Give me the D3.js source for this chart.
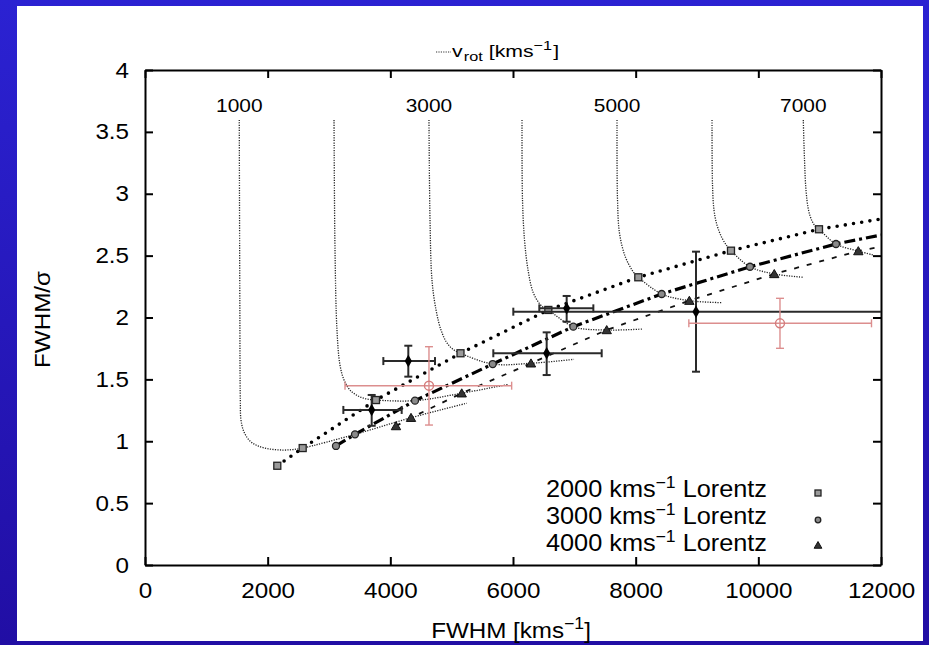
<!DOCTYPE html>
<html>
<head>
<meta charset="utf-8">
<script src="https://cdn.jsdelivr.net/npm/d3@7"></script>
<style>
  html, body { margin: 0; padding: 0; background: #2416b8; }
  svg { display: block; }
  text { font-family: "Liberation Sans", Arial, Helvetica, sans-serif; fill: #000; }
</style>
</head>
<body>
<svg id="chart" width="929" height="645"></svg>
<script>
// ---- axis ticks ----
const xTicks = [0, 2000, 4000, 6000, 8000, 10000, 12000];
const yTicks = [0, 0.5, 1, 1.5, 2, 2.5, 3, 3.5, 4];

// ---- model grid: v_rot values (one curve each) ----
const vrotValues = [1000, 2000, 3000, 4000, 5000, 6000, 7000];
const vrotLabelled = [1000, 3000, 5000, 7000];

// Lorentz-width sequences, one point per v_rot (0 ... 7000 km/s), [FWHM, FWHM/sigma]
const lorentz2000 = [[2157, 0.802], [2571, 0.945], [3766, 1.333], [5144, 1.711], [6576, 2.061], [8043, 2.325], [9554, 2.540], [10989, 2.713]];
const lorentz3000 = [[3114, 0.962], [3424, 1.056], [4402, 1.328], [5669, 1.624], [6983, 1.926], [8424, 2.190], [9864, 2.410], [11266, 2.594]];
const lorentz4000 = [[4092, 1.123], [4337, 1.190], [5164, 1.388], [6293, 1.630], [7528, 1.899], [8875, 2.136], [10260, 2.352], [11630, 2.537]];
// where each sequence leaves the frame on the right
const lorentzTail = [[12000, 2.796], [12000, 2.667], [12000, 2.572]];

// v_rot curves: upper branch (small Lorentz width) down to the 2000 km/s point
const vrot1000 = [[1537, 3.596], [1546, 2.141], [1554, 1.333], [1565, 1.172], [1614, 1.075], [1712, 1.002], [1842, 0.962], [2038, 0.937], [2250, 0.929], [2413, 0.933]];
const vrot2000 = [[3082, 3.596], [3098, 2.545], [3130, 1.899], [3179, 1.616], [3245, 1.495], [3342, 1.414], [3473, 1.366], [3620, 1.341]];
const vrot3000 = [[4630, 3.596], [4647, 2.788], [4679, 2.303], [4745, 2.061], [4826, 1.899], [4924, 1.794], [5038, 1.737]];
const vrot4000 = [[6147, 3.596], [6155, 2.949], [6188, 2.626], [6245, 2.384], [6326, 2.206], [6424, 2.117], [6505, 2.077]];
const vrot5000 = [[7696, 3.596], [7704, 2.949], [7736, 2.683], [7826, 2.497], [7940, 2.384], [8005, 2.343]];
const vrot6000 = [[9245, 3.596], [9253, 3.071], [9277, 2.869], [9326, 2.747], [9408, 2.642], [9489, 2.578]];
const vrot7000 = [[10733, 3.596], [10753, 3.273], [10777, 3.030], [10818, 2.869], [10875, 2.780], [10940, 2.731]];
const vrotUpper = [vrot1000, vrot2000, vrot3000, vrot4000, vrot5000, vrot6000, vrot7000];
// last point of each curve, beyond the 4000 km/s Lorentz point
const vrotEnd = [[5245, 1.307], [5918, 1.459], [6995, 1.662], [8125, 1.907], [9403, 2.120], [10733, 2.325], [11875, 2.505]];

// ---- measurements: [FWHM, FWHM/sigma, FWHM low, FWHM high, ratio low, ratio high] ----
const measBlack = [
  [4293, 1.648, 3886, 4728, 1.522, 1.772],
  [3696, 1.253, 3234, 4185, 1.125, 1.374],
  [6875, 2.074, 6429, 7310, 1.966, 2.174],
  [6549, 1.711, 5679, 7446, 1.535, 1.880],
  [8984, 2.047, 6005, 12600, 1.562, 2.532]
];
const measRed = [
  [4630, 1.449, 3261, 5978, 1.131, 1.764],
  [10353, 1.953, 8867, 11845, 1.751, 2.155]
];

const legendLabels = ["2000", "3000", "4000"];

// ---- layout ----
const svg = d3.select("#chart");
const W = 929, H = 645;
const plot = { left: 145, right: 881, top: 70, bottom: 565 };
const x = d3.scaleLinear().domain([0, 12000]).range([plot.left, plot.right]);
const y = d3.scaleLinear().domain([0, 4]).range([plot.bottom, plot.top]);

const FS = 22;        // main text size
const STRETCH = 1.1;  // horizontal widening of the lettering

// background: blue frame with white page
const defs = svg.append("defs");
const grad = defs.append("linearGradient").attr("id", "bg").attr("x1", 0).attr("y1", 0).attr("x2", 0).attr("y2", 1);
grad.append("stop").attr("offset", 0).attr("stop-color", "#2b22d2");
grad.append("stop").attr("offset", 1).attr("stop-color", "#210ea4");
svg.append("rect").attr("width", W).attr("height", H).attr("fill", "url(#bg)");
svg.append("rect").attr("x", 17).attr("y", 6).attr("width", 906).attr("height", 635).attr("fill", "#fff");

defs.append("clipPath").attr("id", "plotclip").append("rect")
  .attr("x", plot.left).attr("y", plot.top)
  .attr("width", plot.right - plot.left).attr("height", plot.bottom - plot.top);

// text placed at (tx, ty) and widened about its anchor
function label(parent, tx, ty, anchor, size) {
  return parent.append("text")
    .attr("transform", `translate(${tx},${ty}) scale(${STRETCH},1)`)
    .attr("text-anchor", anchor).attr("font-size", size);
}

// ---- axes ----
function styleAxis(g) {
  g.selectAll("path.domain").attr("stroke", "#000").attr("stroke-width", 2);
  g.selectAll(".tick line").attr("stroke", "#000").attr("stroke-width", 2);
  g.selectAll(".tick text").attr("font-size", FS).attr("fill", "#000")
    .attr("font-family", '"Liberation Sans", Arial, sans-serif');
}
svg.append("g").attr("transform", `translate(0,${plot.bottom})`)
  .call(d3.axisBottom(x).tickValues(xTicks).tickSizeInner(-8).tickSizeOuter(0).tickPadding(17).tickFormat(d3.format("d")))
  .call(styleAxis)
  .call(g => g.selectAll(".tick text").attr("transform", `scale(${STRETCH},1)`));
svg.append("g").attr("transform", `translate(0,${plot.top})`)
  .call(d3.axisTop(x).tickValues(xTicks).tickSizeInner(-8).tickSizeOuter(0).tickFormat(""))
  .call(styleAxis);
svg.append("g").attr("transform", `translate(${plot.left},0)`)
  .call(d3.axisLeft(y).tickValues(yTicks).tickSizeInner(-8).tickSizeOuter(0).tickPadding(14.5).tickFormat(d => String(d)))
  .call(styleAxis)
  .call(g => g.selectAll(".tick text").attr("transform", `scale(${STRETCH},1)`));
svg.append("g").attr("transform", `translate(${plot.right},0)`)
  .call(d3.axisRight(y).tickValues(yTicks).tickSizeInner(-8).tickSizeOuter(0).tickFormat(""))
  .call(styleAxis);

// axis titles
svg.append("text").attr("transform", `translate(50,${(plot.top + plot.bottom) / 2 + 2}) rotate(-90) scale(${STRETCH},1)`)
  .attr("text-anchor", "middle").attr("font-size", FS).text("FWHM/σ");
const xt = label(svg, 511, 638, "middle", FS);
xt.append("tspan").text("FWHM [kms");
xt.append("tspan").attr("font-size", 16).attr("dy", -9).text("−1");
xt.append("tspan").attr("dy", 9).text("]");

// top key for the v_rot curves
const keyG = svg.append("g");
keyG.append("line").attr("x1", 436).attr("x2", 451).attr("y1", 52).attr("y2", 52)
  .attr("stroke", "#333").attr("stroke-width", 1.2).attr("stroke-dasharray", "1.2 1.2");
const kt = keyG.append("text").attr("transform", "translate(452,57) scale(1.25,1)").attr("font-size", 17);
kt.append("tspan").text("v");
kt.append("tspan").attr("font-size", 13).attr("dy", 4).attr("dx", 1).text("rot");
kt.append("tspan").attr("dy", -4).text(" [kms");
kt.append("tspan").attr("font-size", 13).attr("dy", -7).text("−1");
kt.append("tspan").attr("dy", 7).attr("dx", 1).text("]");

// ---- curves ----
const g = svg.append("g").attr("clip-path", "url(#plotclip)");
const line = d3.line().x(d => x(d[0])).y(d => y(d[1]));
const smooth = d3.line().x(d => x(d[0])).y(d => y(d[1])).curve(d3.curveCatmullRom.alpha(0.5));

// v_rot curves
vrotValues.forEach((v, i) => {
  const k = i + 1;
  const pts = vrotUpper[i].concat([lorentz2000[k], lorentz3000[k], lorentz4000[k], vrotEnd[i]]);
  g.append("path").attr("d", smooth(pts)).attr("fill", "none")
    .attr("stroke", "#222").attr("stroke-width", 1.3).attr("stroke-dasharray", "1.2 1.3");
});

// Lorentz sequences
g.append("path").attr("d", line(lorentz2000.concat([lorentzTail[0]]))).attr("fill", "none")
  .attr("stroke", "#000").attr("stroke-width", 3.6).attr("stroke-linecap", "round")
  .attr("stroke-dasharray", "0 8.3");
g.append("path").attr("d", line(lorentz3000.concat([lorentzTail[1]]))).attr("fill", "none")
  .attr("stroke", "#000").attr("stroke-width", 3.2)
  .attr("stroke-dasharray", "11 4 3 4");
g.append("path").attr("d", line(lorentz4000.concat([lorentzTail[2]]))).attr("fill", "none")
  .attr("stroke", "#111").attr("stroke-width", 1.8)
  .attr("stroke-dasharray", "5 8");

// markers
function square(sel, cx, cy, s) {
  sel.append("rect").attr("x", cx - s / 2).attr("y", cy - s / 2).attr("width", s).attr("height", s)
    .attr("fill", "#9a9a9a").attr("stroke", "#222").attr("stroke-width", 1.3);
}
function circle(sel, cx, cy, r) {
  sel.append("circle").attr("cx", cx).attr("cy", cy).attr("r", r)
    .attr("fill", "#8a8a8a").attr("stroke", "#222").attr("stroke-width", 1.3);
}
const triSym = d3.symbol().type(d3.symbolTriangle);
function triangle(sel, cx, cy, size) {
  sel.append("path").attr("d", triSym.size(size)()).attr("transform", `translate(${cx},${cy + 1})`)
    .attr("fill", "#333").attr("stroke", "#111").attr("stroke-width", 1);
}
lorentz2000.forEach(d => square(g, x(d[0]), y(d[1]), 7));
lorentz3000.forEach(d => circle(g, x(d[0]), y(d[1]), 3.5));
lorentz4000.forEach(d => triangle(g, x(d[0]), y(d[1]), 38));

// v_rot labels above the curves
vrotLabelled.forEach(v => {
  const top = vrotUpper[vrotValues.indexOf(v)][0];
  label(svg, x(top[0]), y(top[1]) - 8, "middle", 19).text(String(v));
});

// ---- error bars ----
function errorBars(data, color, width, cap) {
  const eg = g.append("g").attr("stroke", color).attr("stroke-width", width).attr("fill", "none");
  data.forEach(d => {
    const cx = x(d[0]), cy = y(d[1]);
    const xl = x(d[2]), xh = x(d[3]), yl = y(d[4]), yh = y(d[5]);
    eg.append("line").attr("x1", xl).attr("x2", xh).attr("y1", cy).attr("y2", cy);
    eg.append("line").attr("x1", xl).attr("x2", xl).attr("y1", cy - cap).attr("y2", cy + cap);
    eg.append("line").attr("x1", xh).attr("x2", xh).attr("y1", cy - cap).attr("y2", cy + cap);
    eg.append("line").attr("x1", cx).attr("x2", cx).attr("y1", yl).attr("y2", yh);
    eg.append("line").attr("x1", cx - cap).attr("x2", cx + cap).attr("y1", yl).attr("y2", yl);
    eg.append("line").attr("x1", cx - cap).attr("x2", cx + cap).attr("y1", yh).attr("y2", yh);
  });
  return eg;
}
errorBars(measBlack, "#2a2a2a", 2, 4);
const diamond = d3.symbol().type(d3.symbolDiamond).size(45);
measBlack.forEach(d => {
  g.append("path").attr("d", diamond()).attr("transform", `translate(${x(d[0])},${y(d[1])})`).attr("fill", "#000");
});
errorBars(measRed, "#dc8e8e", 1.4, 4);
measRed.forEach(d => {
  g.append("circle").attr("cx", x(d[0])).attr("cy", y(d[1])).attr("r", 4.5)
    .attr("fill", "none").attr("stroke", "#d47c7c").attr("stroke-width", 1.4);
});

// ---- legend ----
const legY = [497, 524, 551];
legendLabels.forEach((lab, i) => {
  const t = label(svg, 767, legY[i], "end", 23);
  t.append("tspan").text(lab + " kms");
  t.append("tspan").attr("font-size", 16).attr("dy", -9).text("−1");
  t.append("tspan").attr("dy", 9).text(" Lorentz");
});
square(svg, 818, 493, 6);
circle(svg, 818, 520, 2.8);
triangle(svg, 818, 545, 26);
</script>
</body>
</html>
